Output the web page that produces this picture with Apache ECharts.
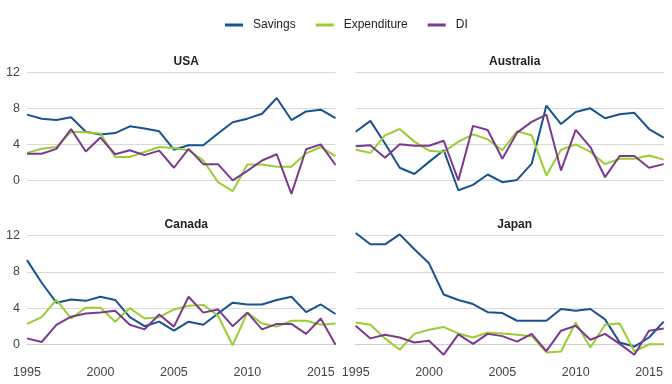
<!DOCTYPE html>
<html><head><meta charset="utf-8">
<script src="https://cdn.jsdelivr.net/npm/echarts@6/dist/echarts.min.js"></script>
<style>html,body{margin:0;padding:0;background:#fff}#c{width:672px;height:384px}</style>
</head><body><div id="c"></div>
<script>
var years = [1995,1996,1997,1998,1999,2000,2001,2002,2003,2004,2005,2006,2007,2008,2009,2010,2011,2012,2013,2014,2015,2016];
var countries = ['USA','Australia','Canada','Japan'];
var seriesNames = ['Savings','Expenditure','DI'];
var yTicks = [0,4,8,12];
var xTicks = [1995,2000,2005,2010,2015];

var usaSavings = [7.3,6.85,6.7,7.0,5.4,5.1,5.25,6.0,5.75,5.45,3.4,3.9,3.9,5.2,6.45,6.85,7.4,9.15,6.7,7.65,7.85,6.9];
var usaExpenditure = [3.05,3.5,3.7,5.4,5.35,5.2,2.6,2.6,3.15,3.7,3.6,3.35,2.2,-0.2,-1.2,1.75,1.75,1.5,1.5,3.0,3.7,2.7];
var usaDI = [2.95,2.95,3.5,5.7,3.2,4.75,2.9,3.35,2.8,3.3,1.4,3.5,1.8,1.8,0.0,1.05,2.2,2.9,-1.5,3.45,4.0,1.7];

var ausSavings = [5.4,6.6,4.1,1.4,0.7,2.05,3.35,-1.1,-0.5,0.65,-0.2,0.05,1.85,8.3,6.25,7.6,8.0,6.9,7.35,7.5,5.7,4.75];
var ausExpenditure = [3.4,3.05,5.0,5.7,4.3,3.3,3.15,4.3,5.1,4.55,3.35,5.45,5.0,0.55,3.4,4.0,3.15,1.8,2.4,2.4,2.75,2.3];
var ausDI = [3.8,3.9,2.5,4.0,3.85,3.85,4.4,0.0,6.05,5.6,2.4,5.3,6.5,7.3,1.1,5.6,3.7,0.35,2.7,2.7,1.4,1.8];

var canSavings = [9.3,6.8,4.6,4.95,4.8,5.25,4.9,3.0,2.0,2.5,1.5,2.5,2.15,3.4,4.6,4.4,4.4,4.9,5.25,3.55,4.4,3.35];
var canExpenditure = [2.25,3.0,4.9,2.85,4.05,4.05,2.5,4.0,2.85,3.0,3.85,4.25,4.35,3.15,-0.1,3.5,2.3,1.95,2.6,2.6,2.15,2.3];
var canDI = [0.65,0.25,2.15,3.05,3.4,3.5,3.7,2.15,1.65,3.3,1.95,5.25,3.5,3.85,2.0,3.5,1.65,2.25,2.25,1.15,2.85,-0.05];

var jpnSavings = [12.3,11.05,11.05,12.15,10.5,8.95,5.5,4.9,4.45,3.55,3.45,2.6,2.6,2.6,3.9,3.7,3.9,2.75,0.2,-0.25,0.75,2.5];
var jpnExpenditure = [2.4,2.15,0.65,-0.6,1.15,1.6,1.9,1.2,0.75,1.3,1.2,1.05,0.9,-0.9,-0.8,2.4,-0.35,2.15,2.3,-0.8,0.0,0.0];
var jpnDI = [2.05,0.65,1.05,0.75,0.2,0.4,-1.15,1.1,0.05,1.15,0.9,0.3,1.15,-0.75,1.5,2.05,0.5,1.15,0.05,-1.15,1.5,1.75];

var data = [
  [usaSavings, usaExpenditure, usaDI],
  [ausSavings, ausExpenditure, ausDI],
  [canSavings, canExpenditure, canDI],
  [jpnSavings, jpnExpenditure, jpnDI]
];
var colors = ['#17538f','#9acd32','#7b3a8e'];

var gridPos = [
  {left:27, top:68.7, width:308.5, height:125.6},
  {left:355.7, top:68.7, width:308, height:125.6},
  {left:27, top:232.1, width:308.5, height:126.2},
  {left:355.7, top:232.1, width:308, height:126.2}
];
var font = 'Liberation Sans, Arial, sans-serif';

var grids = [], xAxes = [], yAxes = [], series = [], titles = [];
for (var i = 0; i < 4; i++) {
  grids.push(gridPos[i]);
  var bottomRow = i >= 2, leftCol = (i % 2) === 0;
  xAxes.push({
    type:'value', gridIndex:i, min:1995, max:2016,
    axisLine:{show:bottomRow, lineStyle:{color:'#d0d0d0', width:1}},
    axisTick:{show:false, customValues:xTicks},
    splitLine:{show:false},
    axisLabel:{show:bottomRow, customValues:xTicks, color:'#444', fontSize:12.5, fontFamily:font, margin:8,
      formatter:function(v){return String(v);}}
  });
  yAxes.push({
    type:'value', gridIndex:i, min:-1.55, max:12.4,
    axisLine:{show:false},
    axisTick:{show:false, customValues:yTicks},
    splitLine:{show:true, lineStyle:{color:'#d9d9d9', width:1}},
    axisLabel:{show:leftCol, customValues:yTicks, color:'#444', fontSize:12.5, fontFamily:font, margin:7}
  });
  titles.push({
    text: countries[i],
    left: gridPos[i].left + gridPos[i].width/2,
    top: gridPos[i].top - 18,
    textAlign:'center',
    textStyle:{fontSize:12, fontWeight:'bold', color:'#222', fontFamily:font}
  });
  for (var s = 0; s < 3; s++) {
    series.push({
      name: seriesNames[s], type:'line', xAxisIndex:i, yAxisIndex:i,
      data: years.map(function(y, k){ return [y, data[i][s][k]]; }),
      showSymbol:false, symbol:'none', smooth:false,
      lineStyle:{color:colors[s], width:2},
      itemStyle:{color:colors[s]},
      animation:false
    });
  }
}

var chart = echarts.init(document.getElementById('c'), null, {renderer:'canvas'});
chart.setOption({
  animation:false,
  color: colors,
  title: titles,
  legend: {
    data: seriesNames, top: 14, left: 220,
    icon:'rect', itemWidth:18, itemHeight:3, itemGap:20,
    textStyle:{fontSize:12, color:'#222', fontFamily:font, padding:[0,0,0,5]}
  },
  grid: grids, xAxis: xAxes, yAxis: yAxes, series: series
});
</script></body></html>
